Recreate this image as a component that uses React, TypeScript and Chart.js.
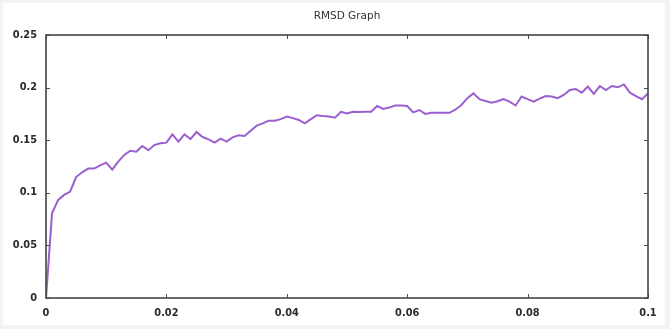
import React, { useEffect, useRef } from "react";
import { Chart, registerables } from "chart.js";

Chart.register(...registerables);

const chartTitle = "RMSD Graph";
const timeStep = 0.001;
const rmsd = [
  0, 0.0805, 0.093, 0.098, 0.101, 0.115, 0.1195, 0.123, 0.123, 0.126,
  0.1286, 0.122, 0.1296, 0.136, 0.14, 0.139, 0.1445, 0.1405, 0.1454, 0.147,
  0.1477, 0.1556, 0.1487, 0.1556, 0.151, 0.1578, 0.153, 0.1508, 0.1477, 0.1515,
  0.1487, 0.1527, 0.1547, 0.154, 0.159, 0.1638, 0.166, 0.1686, 0.1686, 0.17,
  0.1725, 0.171, 0.1692, 0.166, 0.17, 0.1737, 0.173, 0.1725, 0.1714, 0.177,
  0.1755, 0.177, 0.1768, 0.177, 0.177, 0.1825, 0.1797, 0.181, 0.183, 0.1829,
  0.1825, 0.1765, 0.1787, 0.175, 0.176, 0.176, 0.176, 0.176, 0.179, 0.1835,
  0.19, 0.1945, 0.189, 0.1873, 0.1857, 0.187, 0.189, 0.1867, 0.183, 0.1915,
  0.189, 0.1867, 0.1895, 0.192, 0.1915, 0.19, 0.193, 0.1977, 0.1987, 0.1952,
  0.201, 0.194, 0.2015, 0.1977, 0.2015, 0.2003, 0.203, 0.1952, 0.192, 0.189,
  0.1945,
];
const xTicks = { min: 0, max: 0.1, step: 0.02 };
const yTicks = { min: 0, max: 0.25, step: 0.05 };

const fmt = (v: number) => String(Number(Number(v).toFixed(3)));

const framePlugin = {
  id: "frame",
  beforeDraw(chart: any) {
    const { ctx, width, height } = chart;
    ctx.save();
    ctx.fillStyle = "#f3f3f3";
    ctx.fillRect(0, 0, width, height);
    ctx.fillStyle = "#ffffff";
    ctx.fillRect(3, 3, width - 8, height - 7);
    ctx.restore();
  },
  afterDatasetsDraw(chart: any) {
    const { ctx, chartArea: a, scales } = chart;
    ctx.save();
    ctx.strokeStyle = "#4a4a4a";
    ctx.lineWidth = 1;
    const len = 4;
    ctx.beginPath();
    scales.x.ticks.forEach((t: any) => {
      const px = Math.round(scales.x.getPixelForValue(t.value)) + 0.5;
      ctx.moveTo(px, a.bottom);
      ctx.lineTo(px, a.bottom - len);
      ctx.moveTo(px, a.top);
      ctx.lineTo(px, a.top + len);
    });
    scales.y.ticks.forEach((t: any) => {
      const py = Math.round(scales.y.getPixelForValue(t.value)) + 0.5;
      ctx.moveTo(a.left, py);
      ctx.lineTo(a.left + len, py);
      ctx.moveTo(a.right, py);
      ctx.lineTo(a.right - len, py);
    });
    ctx.stroke();
    ctx.lineWidth = 1.6;
    ctx.strokeStyle = "#444444";
    ctx.strokeRect(a.left, a.top, a.right - a.left, a.bottom - a.top);
    ctx.restore();
  },
};

export default function App() {
  const ref = useRef<HTMLCanvasElement>(null);
  useEffect(() => {
    document.body.style.margin = "0";
    const canvas = ref.current!;
    const points = rmsd.map((v, i) => ({ x: i * timeStep, y: v }));
    const tickFont = { family: "'DejaVu Sans', Verdana, sans-serif", size: 9.8, weight: "bold" as const };
    const chart = new Chart(canvas, {
      type: "line",
      data: {
        datasets: [
          {
            data: points,
            borderColor: "#9b5fcf",
            borderWidth: 2,
            pointRadius: 0,
            tension: 0,
            fill: false,
          },
        ],
      },
      plugins: [framePlugin],
      options: {
        animation: false,
        responsive: false,
        maintainAspectRatio: false,
        layout: { padding: { left: 0, right: 22, top: 0, bottom: 0 } },
        plugins: {
          legend: { display: false },
          tooltip: { enabled: false },
          title: {
            display: true,
            text: chartTitle,
            fullSize: false,
            color: "#333333",
            font: { family: "'DejaVu Sans', Verdana, sans-serif", size: 10.5, weight: "normal" },
            padding: { top: 9.7, bottom: 12.7 },
          },
        },
        scales: {
          x: {
            type: "linear",
            min: xTicks.min,
            max: xTicks.max,
            afterFit: (s: any) => { s.height = 31; },
            ticks: {
              stepSize: xTicks.step,
              color: "#2a2a2a",
              font: tickFont,
              padding: 10,
              maxRotation: 0,
              callback: (v: any) => fmt(v),
            },
            grid: { display: false, drawTicks: false },
            border: { display: false },
          },
          y: {
            type: "linear",
            min: yTicks.min,
            max: yTicks.max,
            afterFit: (s: any) => { s.width = 46; },
            ticks: {
              stepSize: yTicks.step,
              color: "#2a2a2a",
              font: tickFont,
              padding: 9,
              callback: (v: any) => fmt(v),
            },
            grid: { display: false, drawTicks: false },
            border: { display: false },
          },
        },
      },
    });
    return () => chart.destroy();
  }, []);
  return <canvas ref={ref} width={670} height={329} style={{ display: "block" }} />;
}
